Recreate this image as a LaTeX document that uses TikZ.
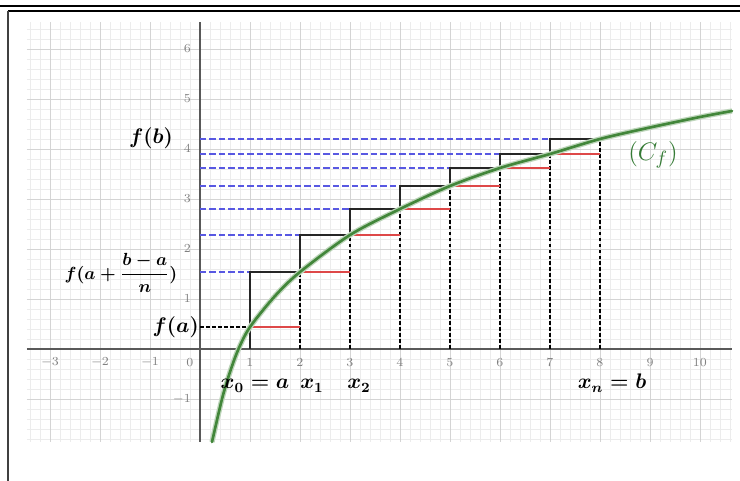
\documentclass[tikz,border=0pt]{standalone}
\usepackage{amsmath,amssymb}
\usepackage{xcolor}
\usepackage{tikz}

\definecolor{curvegreen}{RGB}{66,134,58}
\definecolor{cfgreen}{RGB}{52,122,52}
\definecolor{stepred}{RGB}{222,72,72}
\definecolor{levelblue}{RGB}{88,88,226}
\definecolor{gridgray}{RGB}{212,212,212}
\definecolor{minorgray}{RGB}{236,236,236}

\begin{document}
\begin{tikzpicture}[font=\footnotesize,
  lbl/.style={font=\large\boldmath},
  ticklbl/.style={font=\scriptsize, text=gray},
  level/.style={levelblue, line width=1pt, dash pattern=on 3.6pt off 1.8pt},
  drop/.style={black, line width=1pt, dash pattern=on 2.2pt off 1.2pt},
  lower/.style={stepred, line width=1.1pt},
  upper/.style={black!85, line width=1.1pt}]

  \useasboundingbox (-4,-2.64) rectangle (10.8,6.98);

  % Page border
  \draw[line width=1.4pt] (-4,6.86) -- (10.8,6.86);
  \draw[line width=0.6pt] (-3.84,6.76) -- (10.8,6.76);
  \draw[line width=0.8pt, black!75] (-3.84,6.76) -- (-3.84,-2.64);

  % Grid
  \draw[minorgray, line width=0.3pt, step=0.2] (-3.46,-1.86) grid (10.64,6.54);
  \draw[gridgray, line width=0.5pt, step=1] (-3.46,-1.86) grid (10.64,6.54);

  % Axes
  \draw[black!65, line width=0.7pt] (-3.46,0) -- (10.64,0);
  \draw[black!65, line width=0.7pt] (0,-1.86) -- (0,6.54);
  \foreach \x in {-3,-2,-1,1,2,...,10}
    \node[ticklbl] (xt\x) at (\x,-0.27) {$\x$};
  \foreach \y in {-1,1,2,...,6}
    \node[ticklbl, anchor=east] (yt\y) at (-0.06,\y) {$\y$};
  \node[ticklbl] (tzero) at (-0.2,-0.27) {$0$};

  % Levels, lower sums and drop lines
  \foreach \k/\fa/\fb in {1/0.44/1.54, 2/1.54/2.28, 3/2.28/2.80, 4/2.80/3.26,
                          5/3.26/3.62, 6/3.62/3.90, 7/3.90/4.20} {
    \draw[level] (0,\fb) -- (\k,\fb);
    \draw[drop] ({\k+1},0) -- ({\k+1},\fb);
    \draw[lower] (\k,\fa) -- ({\k+1},\fa);
  }
  \draw[drop] (0,0.44) -- (1,0.44);

  % Upper sums
  \draw[upper] (1,0) -- (1,1.54) -- (2,1.54) -- (2,2.28) -- (3,2.28) -- (3,2.80)
    -- (4,2.80) -- (4,3.26) -- (5,3.26) -- (5,3.62) -- (6,3.62) -- (6,3.90)
    -- (7,3.90) -- (7,4.20) -- (8,4.20);

  % Curve
  \draw[curvegreen, line width=1.5pt, line cap=round,
        preaction={draw, curvegreen!35, line width=3pt}]
    plot[smooth] coordinates {(0.24,-1.86) (0.44,-1.0) (0.6,-0.46) (0.77,0)
      (1,0.44) (1.5,1.06) (2,1.54) (3,2.28) (4,2.80) (5,3.26) (6,3.62)
      (7,3.90) (8,4.20) (9,4.43) (10,4.64) (10.64,4.76)};

  % Labels
  \node[lbl, anchor=east] (fb) at (-0.42,4.22) {$f(b)$};
  \node[lbl, font=\normalsize\boldmath, anchor=east] (fan) at (-0.33,1.52) {$f(a+\dfrac{b-a}{n})$};
  \node[lbl, anchor=east] (fa) at (0.1,0.44) {$f(a)$};
  \node[lbl, anchor=base] (xzero) at (1.1,-0.8) {$x_0=a$};
  \node[lbl, anchor=base] (xone) at (2.24,-0.8) {$x_1$};
  \node[lbl, anchor=base] (xtwo) at (3.18,-0.8) {$x_2$};
  \node[lbl, anchor=base] (xn) at (8.24,-0.8) {$x_n=b$};
  \node[text=cfgreen, font=\fontsize{15.5}{18}\selectfont] (cf) at (9.06,3.88) {$(C_f)$};
\end{tikzpicture}
\end{document}
